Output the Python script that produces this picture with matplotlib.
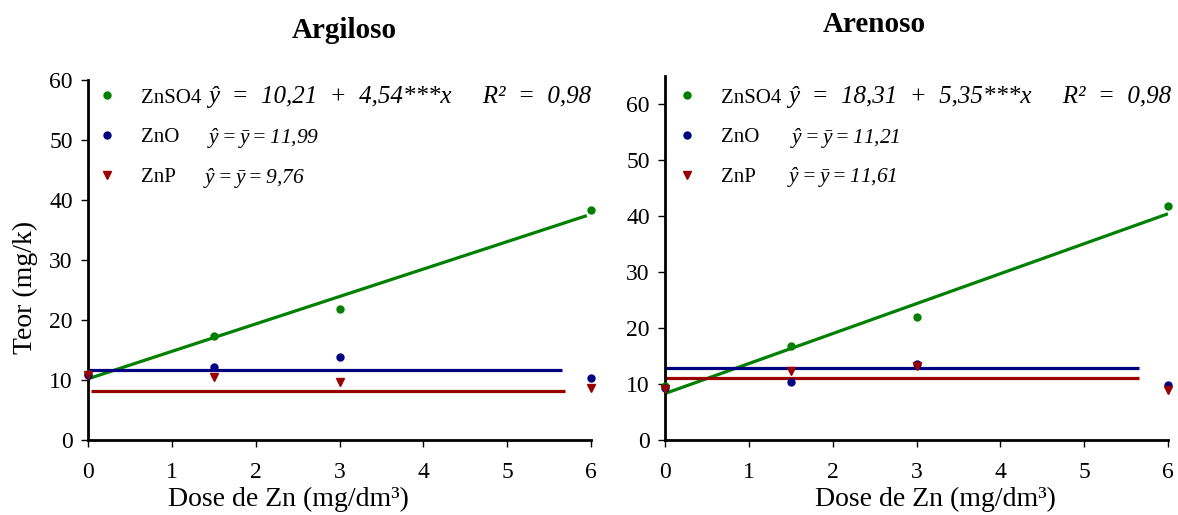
import matplotlib
matplotlib.use("Agg")
import matplotlib.pyplot as plt

plt.rcParams['font.family'] = ['Liberation Serif', 'DejaVu Serif']
# mathtext is only used for the italic mean equations
plt.rcParams['mathtext.fontset'] = 'custom'
plt.rcParams['mathtext.rm'] = 'Liberation Serif:italic'
plt.rcParams['mathtext.it'] = 'Liberation Serif:italic'
plt.rcParams['mathtext.bf'] = 'Liberation Serif:bold'
plt.rcParams['mathtext.default'] = 'it'

# dose levels (mg/dm3)
doses = [0, 1.5, 3, 6]
series_names = ['ZnSO4', 'ZnO', 'ZnP']

# Argiloso
arg_znso4 = [11.0, 17.4, 21.8, 38.3]
arg_zno = [10.9, 12.1, 13.8, 10.4]
arg_znp = [10.8, 10.5, 9.6, 8.6]
arg_fit_x = [[0, 5.95], [0, 5.65], [0.04, 5.69]]
arg_fit_y = [[10.2, 37.4], [11.6, 11.6], [8.25, 8.25]]
arg_eqs = ['ŷ  =  10,21  +  4,54***x     R²  =  0,98',
           r'$\hat{y} = \bar{y} = 11{,}99$',
           r'$\hat{y} = \bar{y} = 9{,}76$']

# Arenoso
are_znso4 = [9.6, 16.8, 21.9, 41.8]
are_zno = [9.3, 10.3, 13.6, 9.8]
are_znp = [9.1, 12.3, 13.3, 8.9]
are_fit_x = [[0, 6], [0, 5.65], [0, 5.65]]
are_fit_y = [[8.3, 40.4], [12.9, 12.9], [11.0, 11.0]]
are_eqs = ['ŷ  =  18,31  +  5,35***x     R²  =  0,98',
           r'$\hat{y} = \bar{y} = 11{,}21$',
           r'$\hat{y} = \bar{y} = 11{,}61$']

colors = ['#008000', '#000080', '#9A0000']
markers = ['o', 'o', 'v']


def draw_panel(ax, values, fit_x, fit_y, eqs, ymax, eq_pos, leg_anchor, xlab_x):
    for fx, fy, c in zip(fit_x, fit_y, colors):
        ax.plot(fx, fy, color=c, lw=2.3, zorder=2, solid_capstyle='butt')
    handles = []
    for vals, c, m in zip(values, colors, markers):
        h, = ax.plot(doses, vals, ls='none', marker=m, color=c,
                     markersize=5 if m == 'o' else 5.5, clip_on=False, zorder=3)
        handles.append(h)
    ax.legend(handles, series_names, loc='upper left', bbox_to_anchor=leg_anchor,
              frameon=False, fontsize=15, borderaxespad=0, borderpad=0,
              handlelength=1, handletextpad=1.15, labelspacing=0.97, markerscale=1)
    for (x, y), eq, fs in zip(eq_pos, eqs, [18, 15.5, 15.5]):
        ax.text(x, y, eq, transform=ax.transAxes, fontsize=fs, va='center',
                ha='left', style='italic')

    ax.set_xlim(0, 6)
    ax.set_ylim(0, ymax)
    ax.set_xticks(range(7))
    ax.set_yticks(range(0, 61, 10))
    for s in ['top', 'right']:
        ax.spines[s].set_visible(False)
    for s in ['left', 'bottom']:
        ax.spines[s].set_linewidth(2)
    ax.tick_params(direction='out', length=5, width=1, labelsize=17)
    ax.tick_params(axis='x', pad=11)
    ax.tick_params(axis='y', pad=6)
    ax.set_xlabel('Dose de Zn (mg/dm³)', fontsize=20, va='center')
    ax.xaxis.set_label_coords(xlab_x, -(499 - 440) / (ymax * 6 if ymax == 60 else 364))


fig = plt.figure(figsize=(11.78, 5.15), dpi=100)
ax1 = fig.add_axes([88 / 1178, 1 - 440 / 515, 503 / 1178, 360 / 515])
ax2 = fig.add_axes([665 / 1178, 1 - 440 / 515, 503 / 1178, 364 / 515])

draw_panel(ax1, [arg_znso4, arg_zno, arg_znp], arg_fit_x, arg_fit_y, arg_eqs, 60,
           [(0.2386, 0.952), (0.2366, 0.837), (0.2286, 0.726)], (0.0165, 0.978), 0.399)
draw_panel(ax2, [are_znso4, are_zno, are_znp], are_fit_x, are_fit_y, are_eqs, 65,
           [(0.2445, 0.942), (0.2485, 0.829), (0.2425, 0.72)], (0.0229, 0.967), 0.537)

ax1.set_ylabel('Teor (mg/k)', fontsize=20, va='center')
ax1.yaxis.set_label_coords(-(88 - 25) / 503, (440 - 287) / 360)

fig.text(344 / 1178, 1 - 30 / 515, 'Argiloso', fontsize=21, fontweight='bold',
         ha='center', va='center')
fig.text(874 / 1178, 1 - 25 / 515, 'Arenoso', fontsize=21, fontweight='bold',
         ha='center', va='center')

fig.savefig('out.png', dpi=100)
